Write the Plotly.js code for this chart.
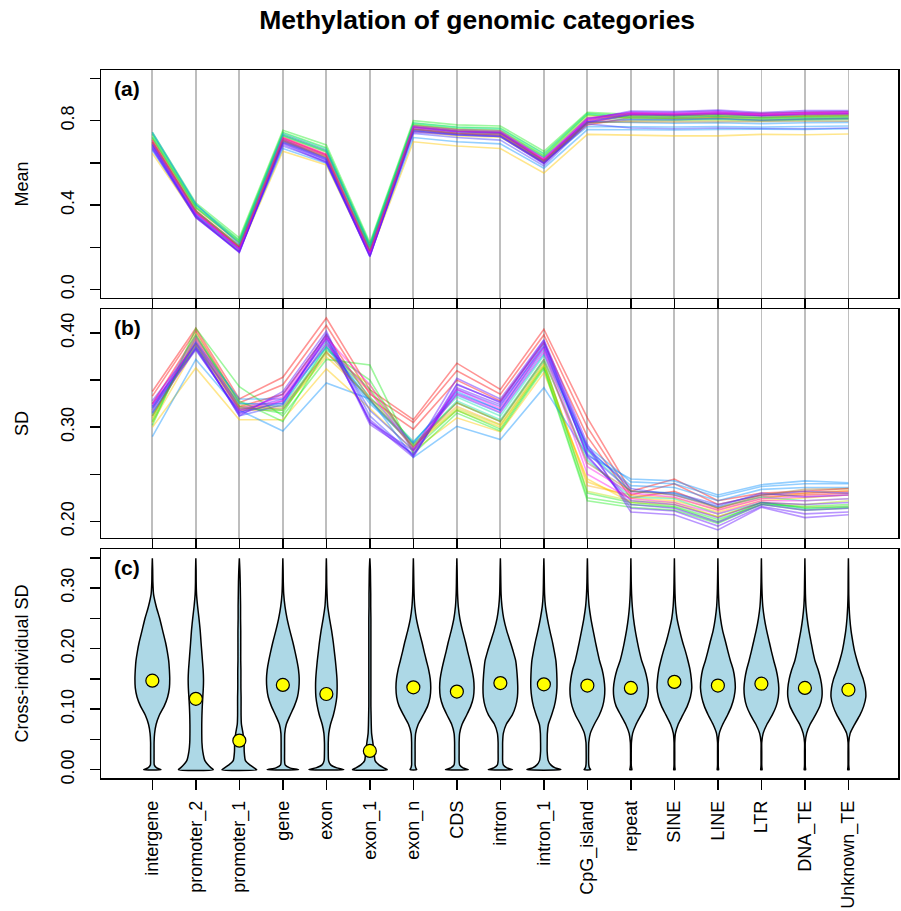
<!DOCTYPE html>
<html>
<head>
<meta charset="utf-8">
<script src="https://cdn.plot.ly/plotly-3.0.1.min.js"></script>
<style>
  html, body { margin: 0; padding: 0; background: #ffffff; }
  #chart { width: 901px; height: 911px; }
</style>
</head>
<body>
<div id="chart"></div>
<script>
// Genomic categories along the x axis
const categories = ["intergene", "promoter_2", "promoter_1", "gene", "exon", "exon_1",
  "exon_n", "CDS", "intron", "intron_1", "CpG_island", "repeat", "SINE", "LINE",
  "LTR", "DNA_TE", "Unknown_TE"];

// Line colour of every sample (one line per sample in panels a and b)
const sampleColors = [
  "rgba(255,0,0,0.42)", "rgba(255,0,0,0.42)", "rgba(255,0,0,0.42)",
  "rgba(255,200,0,0.45)", "rgba(255,200,0,0.45)", "rgba(255,165,0,0.4)",
  "rgba(185,225,0,0.42)",
  "rgba(0,235,0,0.38)", "rgba(0,235,0,0.38)", "rgba(0,235,0,0.38)",
  "rgba(0,225,160,0.4)", "rgba(0,225,160,0.4)",
  "rgba(0,140,255,0.42)", "rgba(0,140,255,0.42)", "rgba(0,140,255,0.42)",
  "rgba(50,50,255,0.42)", "rgba(50,50,255,0.42)",
  "rgba(100,20,255,0.45)", "rgba(100,20,255,0.45)", "rgba(100,20,255,0.45)", "rgba(100,20,255,0.45)",
  "rgba(255,0,235,0.4)", "rgba(255,0,235,0.4)",
  "rgba(165,115,40,0.42)"
];

// Mean methylation per sample and category
const meanBySample = [
  [0.710, 0.375, 0.205, 0.720, 0.640, 0.185, 0.775, 0.755, 0.745, 0.615, 0.800, 0.835, 0.830, 0.835, 0.835, 0.840, 0.842],
  [0.700, 0.370, 0.200, 0.715, 0.635, 0.180, 0.770, 0.750, 0.740, 0.610, 0.790, 0.825, 0.822, 0.828, 0.826, 0.830, 0.833],
  [0.695, 0.365, 0.198, 0.705, 0.625, 0.178, 0.760, 0.740, 0.730, 0.600, 0.780, 0.815, 0.812, 0.818, 0.815, 0.822, 0.825],
  [0.645, 0.345, 0.185, 0.655, 0.590, 0.165, 0.700, 0.680, 0.668, 0.552, 0.735, 0.730, 0.728, 0.728, 0.735, 0.733, 0.737],
  [0.690, 0.370, 0.210, 0.700, 0.625, 0.190, 0.750, 0.728, 0.722, 0.600, 0.790, 0.800, 0.800, 0.802, 0.800, 0.805, 0.806],
  [0.715, 0.385, 0.220, 0.725, 0.650, 0.200, 0.770, 0.752, 0.745, 0.625, 0.815, 0.820, 0.815, 0.818, 0.812, 0.818, 0.818],
  [0.725, 0.392, 0.228, 0.735, 0.660, 0.205, 0.780, 0.760, 0.752, 0.632, 0.825, 0.815, 0.810, 0.812, 0.808, 0.812, 0.812],
  [0.745, 0.410, 0.245, 0.755, 0.685, 0.222, 0.800, 0.780, 0.775, 0.655, 0.840, 0.830, 0.825, 0.828, 0.822, 0.825, 0.826],
  [0.735, 0.400, 0.235, 0.745, 0.672, 0.212, 0.790, 0.770, 0.765, 0.645, 0.835, 0.822, 0.818, 0.822, 0.815, 0.818, 0.820],
  [0.720, 0.388, 0.225, 0.730, 0.655, 0.202, 0.782, 0.762, 0.755, 0.635, 0.828, 0.812, 0.808, 0.810, 0.805, 0.808, 0.810],
  [0.738, 0.402, 0.232, 0.742, 0.668, 0.215, 0.788, 0.768, 0.762, 0.642, 0.832, 0.818, 0.815, 0.820, 0.812, 0.815, 0.816],
  [0.722, 0.390, 0.222, 0.728, 0.652, 0.205, 0.775, 0.755, 0.748, 0.628, 0.815, 0.805, 0.802, 0.806, 0.800, 0.804, 0.806],
  [0.660, 0.350, 0.190, 0.668, 0.598, 0.170, 0.720, 0.700, 0.690, 0.575, 0.758, 0.756, 0.756, 0.758, 0.760, 0.758, 0.762],
  [0.745, 0.405, 0.215, 0.735, 0.660, 0.200, 0.770, 0.748, 0.742, 0.625, 0.795, 0.790, 0.788, 0.790, 0.786, 0.790, 0.792],
  [0.690, 0.372, 0.208, 0.700, 0.622, 0.188, 0.752, 0.732, 0.725, 0.605, 0.772, 0.770, 0.770, 0.772, 0.770, 0.772, 0.775],
  [0.670, 0.355, 0.190, 0.680, 0.605, 0.172, 0.740, 0.720, 0.708, 0.585, 0.785, 0.765, 0.762, 0.765, 0.763, 0.762, 0.765],
  [0.685, 0.360, 0.195, 0.695, 0.615, 0.175, 0.755, 0.735, 0.725, 0.598, 0.790, 0.805, 0.805, 0.810, 0.802, 0.808, 0.810],
  [0.680, 0.345, 0.175, 0.705, 0.612, 0.155, 0.760, 0.745, 0.740, 0.605, 0.805, 0.845, 0.843, 0.850, 0.838, 0.848, 0.848],
  [0.688, 0.350, 0.178, 0.712, 0.620, 0.158, 0.768, 0.750, 0.745, 0.612, 0.810, 0.840, 0.838, 0.845, 0.832, 0.842, 0.843],
  [0.675, 0.342, 0.180, 0.695, 0.605, 0.160, 0.750, 0.738, 0.732, 0.600, 0.795, 0.832, 0.830, 0.838, 0.825, 0.835, 0.836],
  [0.665, 0.340, 0.178, 0.688, 0.600, 0.158, 0.745, 0.732, 0.725, 0.595, 0.792, 0.828, 0.825, 0.832, 0.822, 0.830, 0.832],
  [0.705, 0.365, 0.195, 0.720, 0.640, 0.175, 0.775, 0.758, 0.752, 0.620, 0.812, 0.838, 0.835, 0.842, 0.830, 0.838, 0.840],
  [0.695, 0.360, 0.192, 0.712, 0.632, 0.172, 0.768, 0.750, 0.745, 0.615, 0.805, 0.832, 0.830, 0.835, 0.825, 0.832, 0.834],
  [0.700, 0.372, 0.205, 0.708, 0.630, 0.185, 0.760, 0.740, 0.735, 0.608, 0.790, 0.795, 0.794, 0.796, 0.795, 0.797, 0.797]
];

// Standard deviation of methylation per sample and category
const sdBySample = [
  [0.338, 0.405, 0.330, 0.353, 0.416, 0.340, 0.308, 0.368, 0.340, 0.404, 0.310, 0.232, 0.245, 0.222, 0.230, 0.232, 0.235],
  [0.333, 0.402, 0.326, 0.345, 0.408, 0.335, 0.305, 0.360, 0.335, 0.398, 0.300, 0.228, 0.240, 0.218, 0.228, 0.230, 0.232],
  [0.325, 0.398, 0.322, 0.335, 0.398, 0.330, 0.298, 0.350, 0.328, 0.390, 0.290, 0.225, 0.232, 0.214, 0.226, 0.228, 0.230],
  [0.300, 0.363, 0.308, 0.308, 0.362, 0.320, 0.275, 0.310, 0.295, 0.358, 0.245, 0.220, 0.218, 0.205, 0.220, 0.215, 0.216],
  [0.305, 0.385, 0.318, 0.318, 0.375, 0.332, 0.280, 0.318, 0.300, 0.365, 0.242, 0.225, 0.222, 0.210, 0.222, 0.225, 0.228],
  [0.310, 0.395, 0.322, 0.322, 0.380, 0.338, 0.282, 0.322, 0.303, 0.368, 0.238, 0.228, 0.225, 0.212, 0.224, 0.230, 0.233],
  [0.308, 0.400, 0.325, 0.318, 0.378, 0.345, 0.280, 0.320, 0.302, 0.366, 0.232, 0.222, 0.220, 0.205, 0.220, 0.218, 0.222],
  [0.302, 0.405, 0.343, 0.312, 0.372, 0.366, 0.272, 0.315, 0.296, 0.362, 0.222, 0.215, 0.212, 0.198, 0.218, 0.212, 0.214],
  [0.306, 0.396, 0.328, 0.306, 0.382, 0.350, 0.276, 0.318, 0.298, 0.364, 0.225, 0.218, 0.215, 0.200, 0.220, 0.214, 0.215],
  [0.312, 0.392, 0.322, 0.315, 0.385, 0.340, 0.282, 0.326, 0.306, 0.370, 0.230, 0.220, 0.216, 0.202, 0.218, 0.216, 0.218],
  [0.318, 0.398, 0.326, 0.322, 0.390, 0.332, 0.285, 0.332, 0.312, 0.376, 0.275, 0.232, 0.230, 0.215, 0.226, 0.222, 0.224],
  [0.314, 0.390, 0.320, 0.318, 0.386, 0.328, 0.280, 0.328, 0.308, 0.372, 0.265, 0.226, 0.224, 0.208, 0.220, 0.214, 0.216],
  [0.290, 0.372, 0.318, 0.296, 0.347, 0.330, 0.268, 0.301, 0.287, 0.342, 0.270, 0.245, 0.243, 0.228, 0.239, 0.243, 0.241],
  [0.320, 0.385, 0.325, 0.325, 0.388, 0.328, 0.284, 0.334, 0.315, 0.378, 0.280, 0.242, 0.240, 0.226, 0.237, 0.240, 0.240],
  [0.316, 0.390, 0.330, 0.330, 0.385, 0.325, 0.283, 0.338, 0.318, 0.382, 0.276, 0.238, 0.236, 0.222, 0.234, 0.236, 0.236],
  [0.320, 0.382, 0.316, 0.326, 0.395, 0.318, 0.276, 0.336, 0.318, 0.385, 0.272, 0.232, 0.230, 0.218, 0.228, 0.232, 0.230],
  [0.322, 0.386, 0.312, 0.324, 0.400, 0.312, 0.270, 0.340, 0.322, 0.388, 0.278, 0.235, 0.228, 0.216, 0.230, 0.226, 0.228],
  [0.328, 0.388, 0.312, 0.338, 0.402, 0.305, 0.275, 0.352, 0.330, 0.393, 0.282, 0.210, 0.207, 0.191, 0.215, 0.204, 0.207],
  [0.325, 0.383, 0.315, 0.335, 0.398, 0.303, 0.272, 0.346, 0.326, 0.390, 0.278, 0.214, 0.211, 0.195, 0.216, 0.208, 0.210],
  [0.322, 0.390, 0.318, 0.330, 0.392, 0.308, 0.270, 0.342, 0.324, 0.386, 0.270, 0.218, 0.214, 0.199, 0.218, 0.212, 0.214],
  [0.315, 0.384, 0.314, 0.328, 0.395, 0.306, 0.268, 0.345, 0.327, 0.392, 0.268, 0.222, 0.218, 0.204, 0.220, 0.218, 0.220],
  [0.324, 0.395, 0.320, 0.332, 0.395, 0.345, 0.278, 0.340, 0.320, 0.384, 0.258, 0.230, 0.226, 0.212, 0.224, 0.226, 0.228],
  [0.318, 0.392, 0.318, 0.328, 0.388, 0.338, 0.276, 0.335, 0.316, 0.380, 0.250, 0.224, 0.220, 0.208, 0.222, 0.222, 0.224],
  [0.312, 0.388, 0.320, 0.320, 0.380, 0.330, 0.279, 0.326, 0.306, 0.372, 0.262, 0.232, 0.228, 0.214, 0.228, 0.234, 0.235]
];

// Median cross-individual SD per category
const medianCrossSD = [0.147, 0.117, 0.048, 0.140, 0.125, 0.031, 0.136, 0.129, 0.143,
  0.141, 0.139, 0.135, 0.145, 0.139, 0.142, 0.135, 0.132];

// Density of cross-individual SD: evaluation levels and relative density (max = 1) per category
const densityLevels = [0, 0.003, 0.008, 0.015, 0.03, 0.045, 0.06, 0.075, 0.09, 0.105, 0.12,
  0.135, 0.15, 0.165, 0.18, 0.195, 0.21, 0.23, 0.25, 0.27, 0.29, 0.31, 0.33, 0.349];
const densityIntergene = [0.50,0.25,0.11,0.10,0.10,0.10,0.13,0.22,0.40,0.68,0.88,0.98,1.00,0.98,0.94,0.86,0.76,0.59,0.42,0.22,0.07,0.03,0.02,0];
const densityPromoter2 = [1.00,0.88,0.70,0.52,0.40,0.35,0.34,0.34,0.35,0.37,0.40,0.43,0.44,0.42,0.38,0.34,0.30,0.25,0.18,0.10,0.04,0.02,0.015,0];
const densityPromoter1 = [1.00,0.85,0.60,0.35,0.28,0.27,0.21,0.12,0.10,0.10,0.10,0.09,0.09,0.09,0.08,0.08,0.08,0.08,0.07,0.07,0.06,0.05,0.03,0];
const densityGene      = [0.90,0.40,0.13,0.10,0.10,0.10,0.11,0.20,0.42,0.66,0.84,0.92,0.94,0.90,0.81,0.70,0.58,0.40,0.24,0.12,0.05,0.025,0.015,0];
const densityExon      = [1.00,0.60,0.25,0.13,0.11,0.11,0.14,0.24,0.40,0.52,0.60,0.62,0.61,0.57,0.52,0.46,0.40,0.30,0.18,0.08,0.04,0.02,0.015,0];
const densityExon1     = [1.00,0.80,0.52,0.30,0.24,0.17,0.10,0.08,0.07,0.06,0.06,0.06,0.06,0.06,0.06,0.06,0.06,0.06,0.06,0.05,0.05,0.04,0.03,0];
const densityExonN     = [0.19,0.14,0.10,0.10,0.10,0.10,0.13,0.28,0.56,0.82,0.96,1.00,0.97,0.88,0.75,0.62,0.50,0.32,0.17,0.08,0.04,0.025,0.015,0];
const densityCDS       = [0.66,0.35,0.16,0.13,0.13,0.13,0.16,0.30,0.56,0.80,0.95,0.99,0.96,0.87,0.75,0.62,0.50,0.32,0.17,0.08,0.04,0.025,0.015,0];
const densityIntron    = [0.70,0.38,0.17,0.13,0.13,0.13,0.17,0.34,0.68,0.88,0.98,1.00,0.98,0.94,0.88,0.74,0.58,0.36,0.19,0.09,0.04,0.025,0.015,0];
const densityIntron1   = [0.98,0.65,0.40,0.25,0.19,0.19,0.20,0.26,0.44,0.60,0.70,0.75,0.75,0.73,0.69,0.60,0.50,0.34,0.20,0.09,0.04,0.025,0.015,0];
const densityCpG       = [0.19,0.12,0.08,0.07,0.07,0.08,0.17,0.40,0.68,0.88,0.98,1.00,0.95,0.85,0.70,0.58,0.47,0.33,0.20,0.10,0.05,0.025,0.015,0];
const densityRepeat    = [0.06,0.04,0.02,0.02,0.02,0.03,0.10,0.30,0.58,0.85,0.98,1.00,0.93,0.80,0.62,0.49,0.38,0.25,0.15,0.08,0.04,0.02,0.01,0];
const densitySINE      = [0.04,0.03,0.02,0.02,0.02,0.02,0.06,0.22,0.48,0.74,0.92,1.00,0.97,0.90,0.78,0.64,0.48,0.30,0.15,0.07,0.035,0.02,0.01,0];
const densityLINE      = [0.04,0.03,0.02,0.02,0.02,0.02,0.08,0.28,0.55,0.78,0.93,1.00,0.97,0.88,0.72,0.58,0.45,0.27,0.15,0.07,0.035,0.02,0.01,0];
const densityLTR       = [0.04,0.03,0.02,0.02,0.02,0.02,0.10,0.32,0.62,0.85,0.97,1.00,0.95,0.85,0.71,0.58,0.46,0.30,0.17,0.08,0.04,0.02,0.01,0];
const densityDNATE     = [0.04,0.03,0.02,0.02,0.02,0.02,0.10,0.30,0.60,0.86,0.98,0.98,0.90,0.76,0.58,0.46,0.36,0.23,0.13,0.06,0.03,0.02,0.01,0];
const densityUnknownTE = [0.04,0.03,0.02,0.02,0.02,0.02,0.10,0.36,0.66,0.88,1.00,0.97,0.85,0.66,0.50,0.36,0.26,0.15,0.08,0.04,0.02,0.015,0.01,0];

const densityByCategory = [densityIntergene, densityPromoter2, densityPromoter1, densityGene,
  densityExon, densityExon1, densityExonN, densityCDS, densityIntron, densityIntron1,
  densityCpG, densityRepeat, densitySINE, densityLINE, densityLTR, densityDNATE, densityUnknownTE];

// ---- drawing ----
const FONT = "Liberation Sans, Arial, Helvetica, sans-serif";
const positions = categories.map((_, i) => i + 1);
const violinHalfWidth = 0.4;

const traces = [];

// Panel (a): mean per sample
meanBySample.forEach((vals, s) => {
  traces.push({
    type: "scatter", mode: "lines", x: positions, y: vals,
    xaxis: "x", yaxis: "y",
    line: { color: sampleColors[s], width: 1.6 },
    hoverinfo: "skip", showlegend: false
  });
});

// Panel (b): SD per sample
sdBySample.forEach((vals, s) => {
  traces.push({
    type: "scatter", mode: "lines", x: positions, y: vals,
    xaxis: "x2", yaxis: "y2",
    line: { color: sampleColors[s], width: 1.6 },
    hoverinfo: "skip", showlegend: false
  });
});

// Panel (c): violin outlines built from the density profiles
densityByCategory.forEach((dens, i) => {
  const pos = positions[i];
  const right = dens.map(d => pos + d * violinHalfWidth);
  const left = dens.map(d => pos - d * violinHalfWidth).reverse();
  const xs = right.concat(left, [right[0]]);
  const ys = densityLevels.concat(densityLevels.slice().reverse(), [densityLevels[0]]);
  traces.push({
    type: "scatter", mode: "lines", x: xs, y: ys,
    xaxis: "x3", yaxis: "y3",
    fill: "toself", fillcolor: "#ADD8E6",
    line: { color: "#000000", width: 1.5, shape: "spline", smoothing: 0.6 },
    hoverinfo: "skip", showlegend: false
  });
});

// Panel (c): medians
traces.push({
  type: "scatter", mode: "markers", x: positions, y: medianCrossSD,
  xaxis: "x3", yaxis: "y3",
  marker: { color: "#FFFF00", size: 13, line: { color: "#000000", width: 1.2 } },
  hoverinfo: "skip", showlegend: false
});

const frame = { showline: true, mirror: true, linecolor: "#000000", linewidth: 1.5, zeroline: false };
const tickStyle = { ticks: "outside", ticklen: 10, tickwidth: 1.5, tickcolor: "#000000" };
const xRange = [-0.18, 18.14];

const xBase = Object.assign({}, frame, tickStyle, {
  range: xRange, tickmode: "array", tickvals: positions, fixedrange: true
});

const yTitleFont = { family: FONT, size: 18, color: "#000000" };

const layout = {
  width: 901, height: 911,
  margin: { l: 101, r: 3, t: 70, b: 133 },
  paper_bgcolor: "#ffffff", plot_bgcolor: "#ffffff",
  font: { family: FONT, size: 18, color: "#000000" },
  title: {
    text: "<b>Methylation of genomic categories</b>",
    font: { family: FONT, size: 26.5, color: "#000000" },
    x: 0.472, xanchor: "center", xref: "paper",
    y: 0.978, yanchor: "middle", yref: "container"
  },
  showlegend: false,
  xaxis: Object.assign({}, xBase, {
    anchor: "y", showticklabels: false, showgrid: true, gridcolor: "#BEBEBE", gridwidth: 1.8
  }),
  xaxis2: Object.assign({}, xBase, {
    anchor: "y2", showticklabels: false, showgrid: true, gridcolor: "#BEBEBE", gridwidth: 1.8
  }),
  xaxis3: Object.assign({}, xBase, {
    anchor: "y3", showgrid: false, ticktext: categories, tickangle: -90,
    tickfont: { family: FONT, size: 18 }, ticklabelstandoff: 4
  }),
  yaxis: Object.assign({}, frame, tickStyle, {
    domain: [0.678, 1], range: [-0.04, 1.04], showgrid: false, fixedrange: true,
    tickmode: "array", tickvals: [0, 0.2, 0.4, 0.6, 0.8, 1.0],
    ticktext: ["0.0", "", "0.4", "", "0.8", ""], tickangle: -90, ticklabelstandoff: 8,
    title: { text: "Mean", font: yTitleFont, standoff: 25 }
  }),
  yaxis2: Object.assign({}, frame, tickStyle, {
    domain: [0.339, 0.6624], range: [0.1824, 0.4255], showgrid: false, fixedrange: true,
    tickmode: "array", tickvals: [0.20, 0.25, 0.30, 0.35, 0.40],
    ticktext: ["0.20", "", "0.30", "", "0.40"], tickangle: -90, ticklabelstandoff: 8,
    title: { text: "SD", font: yTitleFont, standoff: 25 }
  }),
  yaxis3: Object.assign({}, frame, tickStyle, {
    domain: [0, 0.3234], range: [-0.0137, 0.3644], showgrid: false, fixedrange: true,
    tickmode: "array", tickvals: [0, 0.05, 0.10, 0.15, 0.20, 0.25, 0.30, 0.35],
    ticktext: ["0.00", "", "0.10", "", "0.20", "", "0.30", ""], tickangle: -90, ticklabelstandoff: 8,
    title: { text: "Cross-individual SD", font: yTitleFont, standoff: 25 }
  }),
  annotations: [
    { text: "<b>(a)</b>", xref: "x domain", yref: "y domain", x: 0.014, y: 0.921,
      xanchor: "left", yanchor: "middle", showarrow: false, font: { family: FONT, size: 21 } },
    { text: "<b>(b)</b>", xref: "x2 domain", yref: "y2 domain", x: 0.014, y: 0.921,
      xanchor: "left", yanchor: "middle", showarrow: false, font: { family: FONT, size: 21 } },
    { text: "<b>(c)</b>", xref: "x3 domain", yref: "y3 domain", x: 0.014, y: 0.921,
      xanchor: "left", yanchor: "middle", showarrow: false, font: { family: FONT, size: 21 } }
  ]
};

Plotly.newPlot("chart", traces, layout, { displayModeBar: false, staticPlot: true });
</script>
</body>
</html>
